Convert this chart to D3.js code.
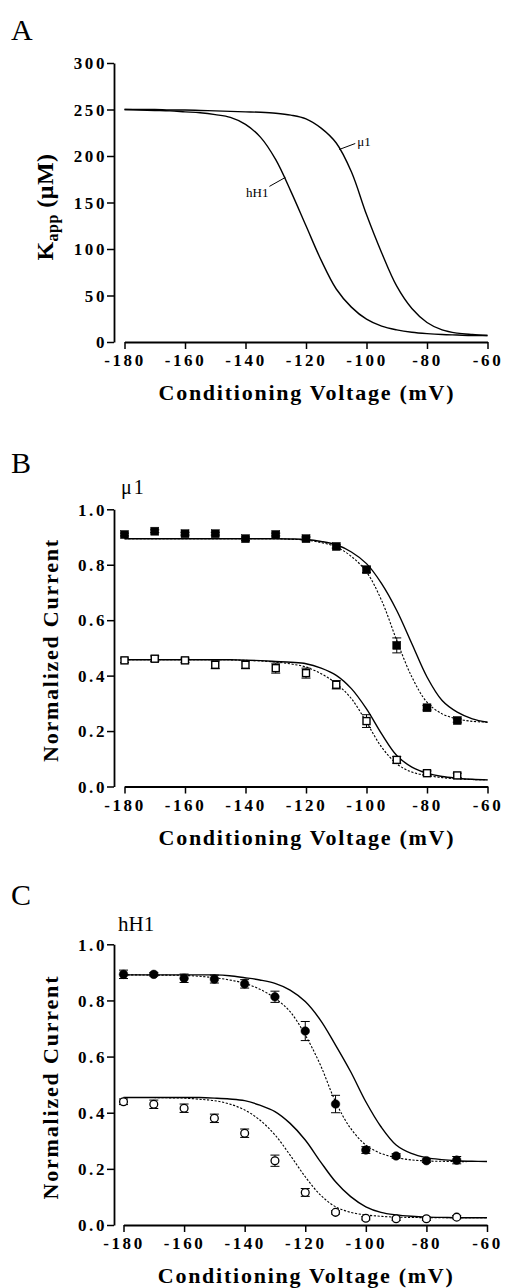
<!DOCTYPE html>
<html>
<head>
<meta charset="utf-8">
<title>Kapp and steady-state inactivation</title>
<style>
  body, html { margin: 0; padding: 0; background: #fff; }
  svg text { font-family: "Liberation Serif", "Times New Roman", serif; fill: #000; }
</style>
</head>
<body>
<svg id="svg" width="505" height="1288"></svg>
<script src="https://cdn.jsdelivr.net/npm/d3@7"></script>
<script>
  // voltages of the sampled fit curves and of the measured points (mV)
  const curveV = [-180, -175, -170, -165, -160, -155, -150, -145, -140, -135, -130, -125, -120,
    -115, -110, -105, -100, -95, -90, -85, -80, -75, -70, -65, -60]
  const pointV = [-180, -170, -160, -150, -140, -130, -120, -110, -100, -90, -80, -70]
  const xTicks = [-180, -160, -140, -120, -100, -80, -60]

  // panel A: Kapp (uM)
  const kappHH1 = [250, 249.5, 249, 248.5, 247.5, 246.5, 244.5, 241.5, 234, 220, 196, 162, 125,
    88, 57, 37.5, 24.5, 17, 13, 10.5, 9, 8, 7.5, 7, 7]
  const kappMu1 = [250, 250, 250, 249.5, 249.5, 249, 248.5, 248, 247.5, 247, 246, 244, 240,
    230, 214, 183, 137, 96, 60, 36, 21, 13, 9.5, 8, 7]
  const kappTicks = [0, 50, 100, 150, 200, 250, 300]

  // panel B: mu1 normalized current
  const muFilled = [0.909, 0.921, 0.912, 0.912, 0.894, 0.909, 0.894, 0.866, 0.782, 0.509, 0.284, 0.238]
  const muFilledErr = [0.005, 0.005, 0.005, 0.005, 0.006, 0.005, 0.006, 0.006, 0.01, 0.027, 0.008, 0.006]
  const muOpen = [0.455, 0.461, 0.455, 0.439, 0.439, 0.427, 0.409, 0.367, 0.236, 0.096, 0.048, 0.04]
  const muOpenErr = [0.008, 0.01, 0.008, 0.014, 0.014, 0.018, 0.018, 0.015, 0.023, 0.012, 0.008, 0.008]
  const muFilledSolid = [0.894, 0.894, 0.894, 0.894, 0.894, 0.894, 0.894, 0.894, 0.894, 0.894, 0.894, 0.893, 0.891,
    0.884, 0.872, 0.846, 0.804, 0.732, 0.635, 0.515, 0.395, 0.31, 0.268, 0.244, 0.232]
  const muFilledDash = [0.894, 0.894, 0.894, 0.894, 0.894, 0.894, 0.894, 0.894, 0.894, 0.894, 0.894, 0.892, 0.889,
    0.88, 0.864, 0.83, 0.774, 0.671, 0.527, 0.395, 0.304, 0.262, 0.244, 0.235, 0.232]
  const muOpenSolid = [0.457, 0.457, 0.457, 0.457, 0.457, 0.457, 0.457, 0.457, 0.456, 0.454, 0.451, 0.448, 0.443,
    0.427, 0.401, 0.353, 0.28, 0.19, 0.112, 0.07, 0.048, 0.036, 0.03, 0.026, 0.024]
  const muOpenDash = [0.457, 0.457, 0.457, 0.457, 0.457, 0.457, 0.457, 0.457, 0.455, 0.453, 0.449, 0.442, 0.431,
    0.407, 0.371, 0.317, 0.232, 0.142, 0.082, 0.052, 0.04, 0.032, 0.028, 0.025, 0.024]

  // panel C: hH1 normalized current
  const hFilled = [0.893, 0.893, 0.879, 0.876, 0.859, 0.813, 0.691, 0.431, 0.267, 0.246, 0.229, 0.231]
  const hFilledErr = [0.015, 0.006, 0.015, 0.014, 0.015, 0.02, 0.034, 0.031, 0.012, 0.008, 0.006, 0.013]
  const hOpen = [0.439, 0.43, 0.416, 0.38, 0.327, 0.229, 0.116, 0.045, 0.024, 0.022, 0.022, 0.028]
  const hOpenErr = [0.01, 0.015, 0.015, 0.015, 0.015, 0.02, 0.014, 0.006, 0.006, 0.006, 0.006, 0.006]
  const hFilledSolid = [0.891, 0.891, 0.891, 0.891, 0.891, 0.891, 0.891, 0.888, 0.881, 0.873, 0.861, 0.837, 0.796,
    0.73, 0.641, 0.546, 0.439, 0.35, 0.285, 0.255, 0.24, 0.233, 0.229, 0.227, 0.226]
  const hFilledDash = [0.891, 0.891, 0.89, 0.89, 0.889, 0.886, 0.881, 0.873, 0.861, 0.84, 0.808, 0.76, 0.677,
    0.57, 0.439, 0.344, 0.285, 0.255, 0.24, 0.232, 0.228, 0.227, 0.226, 0.226, 0.226]
  const hOpenSolid = [0.454, 0.454, 0.454, 0.454, 0.454, 0.454, 0.452, 0.449, 0.443, 0.427, 0.404, 0.362, 0.303,
    0.226, 0.154, 0.101, 0.065, 0.045, 0.036, 0.031, 0.028, 0.027, 0.026, 0.026, 0.026]
  const hOpenDash = [0.454, 0.454, 0.454, 0.453, 0.452, 0.448, 0.443, 0.431, 0.41, 0.374, 0.321, 0.249, 0.172,
    0.107, 0.065, 0.045, 0.036, 0.031, 0.028, 0.027, 0.026, 0.026, 0.026, 0.026, 0.026]
  const currentTicks = [0, 0.2, 0.4, 0.6, 0.8, 1.0]

  const svg = d3.select('#svg')
  const serif = '"Liberation Serif", "Times New Roman", serif'
  const axisX = 114

  function drawAxes(x, y, yTicks, yFmt, yTitle, yTitleX, yTitleCy) {
    const xAxis = d3.axisBottom(x).tickValues(xTicks).tickSize(7).tickSizeOuter(0)
      .tickPadding(5).tickFormat(d => String(d))
    const yAxis = d3.axisLeft(y).tickValues(yTicks).tickSize(7).tickSizeOuter(0)
      .tickPadding(0).tickFormat(yFmt)

    const gx = svg.append('g').attr('transform', `translate(0, ${y(0)})`).call(xAxis)
    const gy = svg.append('g').attr('transform', `translate(${axisX}, 0)`).call(yAxis)
    ;[gx, gy].forEach(g => {
      g.attr('font-family', serif).attr('font-size', 17).attr('font-weight', 'bold')
      g.select('.domain').attr('stroke-width', 1.8)
      g.selectAll('.tick line').attr('stroke-width', 1.5)
      g.selectAll('.tick text').attr('letter-spacing', 2.6).attr('fill', '#000')
    })
    gy.selectAll('.tick text').attr('dy', '0.34em')

    svg.append('text')
      .attr('x', x(-120)).attr('y', y(0) + 58)
      .attr('text-anchor', 'middle')
      .attr('font-size', 22).attr('font-weight', 'bold')
      .attr('textLength', 295).attr('lengthAdjust', 'spacing')
      .text('Conditioning Voltage (mV)')

    yTitle(svg.append('text')
      .attr('transform', `translate(${yTitleX}, ${yTitleCy}) rotate(-90)`)
      .attr('text-anchor', 'middle')
      .attr('font-size', 22).attr('font-weight', 'bold'))
  }

  function drawCurve(x, y, vals, dashed) {
    const line = d3.line().x((d, i) => x(curveV[i])).y(d => y(d)).curve(d3.curveCatmullRom.alpha(0.5))
    svg.append('path')
      .attr('d', line(vals))
      .attr('fill', 'none')
      .attr('stroke', '#000')
      .attr('stroke-width', dashed ? 1.1 : 1.4)
      .attr('stroke-dasharray', dashed ? '2.2,1.6' : null)
  }

  function drawPoints(x, y, vals, errs, shape, filled) {
    const g = svg.append('g')
    vals.forEach((v, i) => {
      const cx = x(pointV[i])
      const e = errs[i]
      g.append('line')
        .attr('x1', cx).attr('x2', cx)
        .attr('y1', y(v - e)).attr('y2', y(v + e))
        .attr('stroke', '#000').attr('stroke-width', 1)
      ;[v - e, v + e].forEach(c => {
        g.append('line')
          .attr('x1', cx - 4.5).attr('x2', cx + 4.5)
          .attr('y1', y(c)).attr('y2', y(c))
          .attr('stroke', '#000').attr('stroke-width', 1)
      })
    })
    vals.forEach((v, i) => {
      const cx = x(pointV[i])
      const cy = y(v)
      if (shape === 'square') {
        const s = filled ? 8 : 7
        g.append('rect')
          .attr('x', cx - s / 2).attr('y', cy - s / 2)
          .attr('width', s).attr('height', s)
          .attr('fill', filled ? '#000' : '#fff')
          .attr('stroke', '#000').attr('stroke-width', filled ? 0.5 : 1.4)
      } else {
        g.append('circle')
          .attr('cx', cx).attr('cy', cy)
          .attr('r', filled ? 4.3 : 3.9)
          .attr('fill', filled ? '#000' : '#fff')
          .attr('stroke', '#000').attr('stroke-width', filled ? 0.5 : 1.3)
      }
    })
  }

  function panelLetter(txt, yPos) {
    svg.append('text').attr('x', 11).attr('y', yPos)
      .attr('font-size', 30).text(txt)
  }

  // ---------- Panel A ----------
  const xA = d3.scaleLinear().domain([-180, -60]).range([124.5, 487.5])
  const yA = d3.scaleLinear().domain([0, 300]).range([342, 63])
  panelLetter('A', 40)
  drawAxes(xA, yA, kappTicks, d => String(d), t => {
    t.attr('font-size', 24).attr('letter-spacing', 0.5)
    t.append('tspan').text('K')
    t.append('tspan').attr('font-size', 16).attr('dy', 5).text('app')
    t.append('tspan').attr('dy', -5).text(' (\u03bcM)')
  }, 53, 207)
  drawCurve(xA, yA, kappHH1, false)
  drawCurve(xA, yA, kappMu1, false)

  const annA = [
    { text: '\u03bc1', v: -109, k: 207, dx: 16, dy: -6, anchor: 'start' },
    { text: 'hH1', v: -126.8, k: 177, dx: -16, dy: 9, anchor: 'end' }
  ]
  annA.forEach(a => {
    const px = xA(a.v), py = yA(a.k)
    svg.append('line')
      .attr('x1', px).attr('y1', py).attr('x2', px + a.dx).attr('y2', py + a.dy)
      .attr('stroke', '#000').attr('stroke-width', 1)
    svg.append('text')
      .attr('x', px + a.dx + (a.anchor === 'start' ? 2 : -1))
      .attr('y', py + a.dy + (a.anchor === 'start' ? 3 : 11))
      .attr('text-anchor', a.anchor)
      .attr('font-size', 13)
      .text(a.text)
  })

  // ---------- Panel B ----------
  const xB = d3.scaleLinear().domain([-180, -60]).range([124.5, 487.5])
  const yB = d3.scaleLinear().domain([0, 1]).range([786.5, 509.3])
  panelLetter('B', 473)
  svg.append('text').attr('x', 121).attr('y', 494)
    .attr('font-size', 20).attr('letter-spacing', 2).text('\u03bc1')
  drawAxes(xB, yB, currentTicks, d => d.toFixed(1), t => {
    t.attr('textLength', 222).attr('lengthAdjust', 'spacing').text('Normalized Current')
  }, 58, 651)
  drawCurve(xB, yB, muFilledSolid, false)
  drawCurve(xB, yB, muFilledDash, true)
  drawCurve(xB, yB, muOpenSolid, false)
  drawCurve(xB, yB, muOpenDash, true)
  drawPoints(xB, yB, muFilled, muFilledErr, 'square', true)
  drawPoints(xB, yB, muOpen, muOpenErr, 'square', false)

  // ---------- Panel C ----------
  const xC = d3.scaleLinear().domain([-180, -60]).range([123.5, 487])
  const yC = d3.scaleLinear().domain([0, 1]).range([1225, 944.3])
  panelLetter('C', 905)
  svg.append('text').attr('x', 118).attr('y', 931)
    .attr('font-size', 21).text('hH1')
  drawAxes(xC, yC, currentTicks, d => d.toFixed(1), t => {
    t.attr('textLength', 223).attr('lengthAdjust', 'spacing').text('Normalized Current')
  }, 58, 1088)
  drawCurve(xC, yC, hFilledSolid, false)
  drawCurve(xC, yC, hFilledDash, true)
  drawCurve(xC, yC, hOpenSolid, false)
  drawCurve(xC, yC, hOpenDash, true)
  drawPoints(xC, yC, hFilled, hFilledErr, 'circle', true)
  drawPoints(xC, yC, hOpen, hOpenErr, 'circle', false)
</script>
</body>
</html>
